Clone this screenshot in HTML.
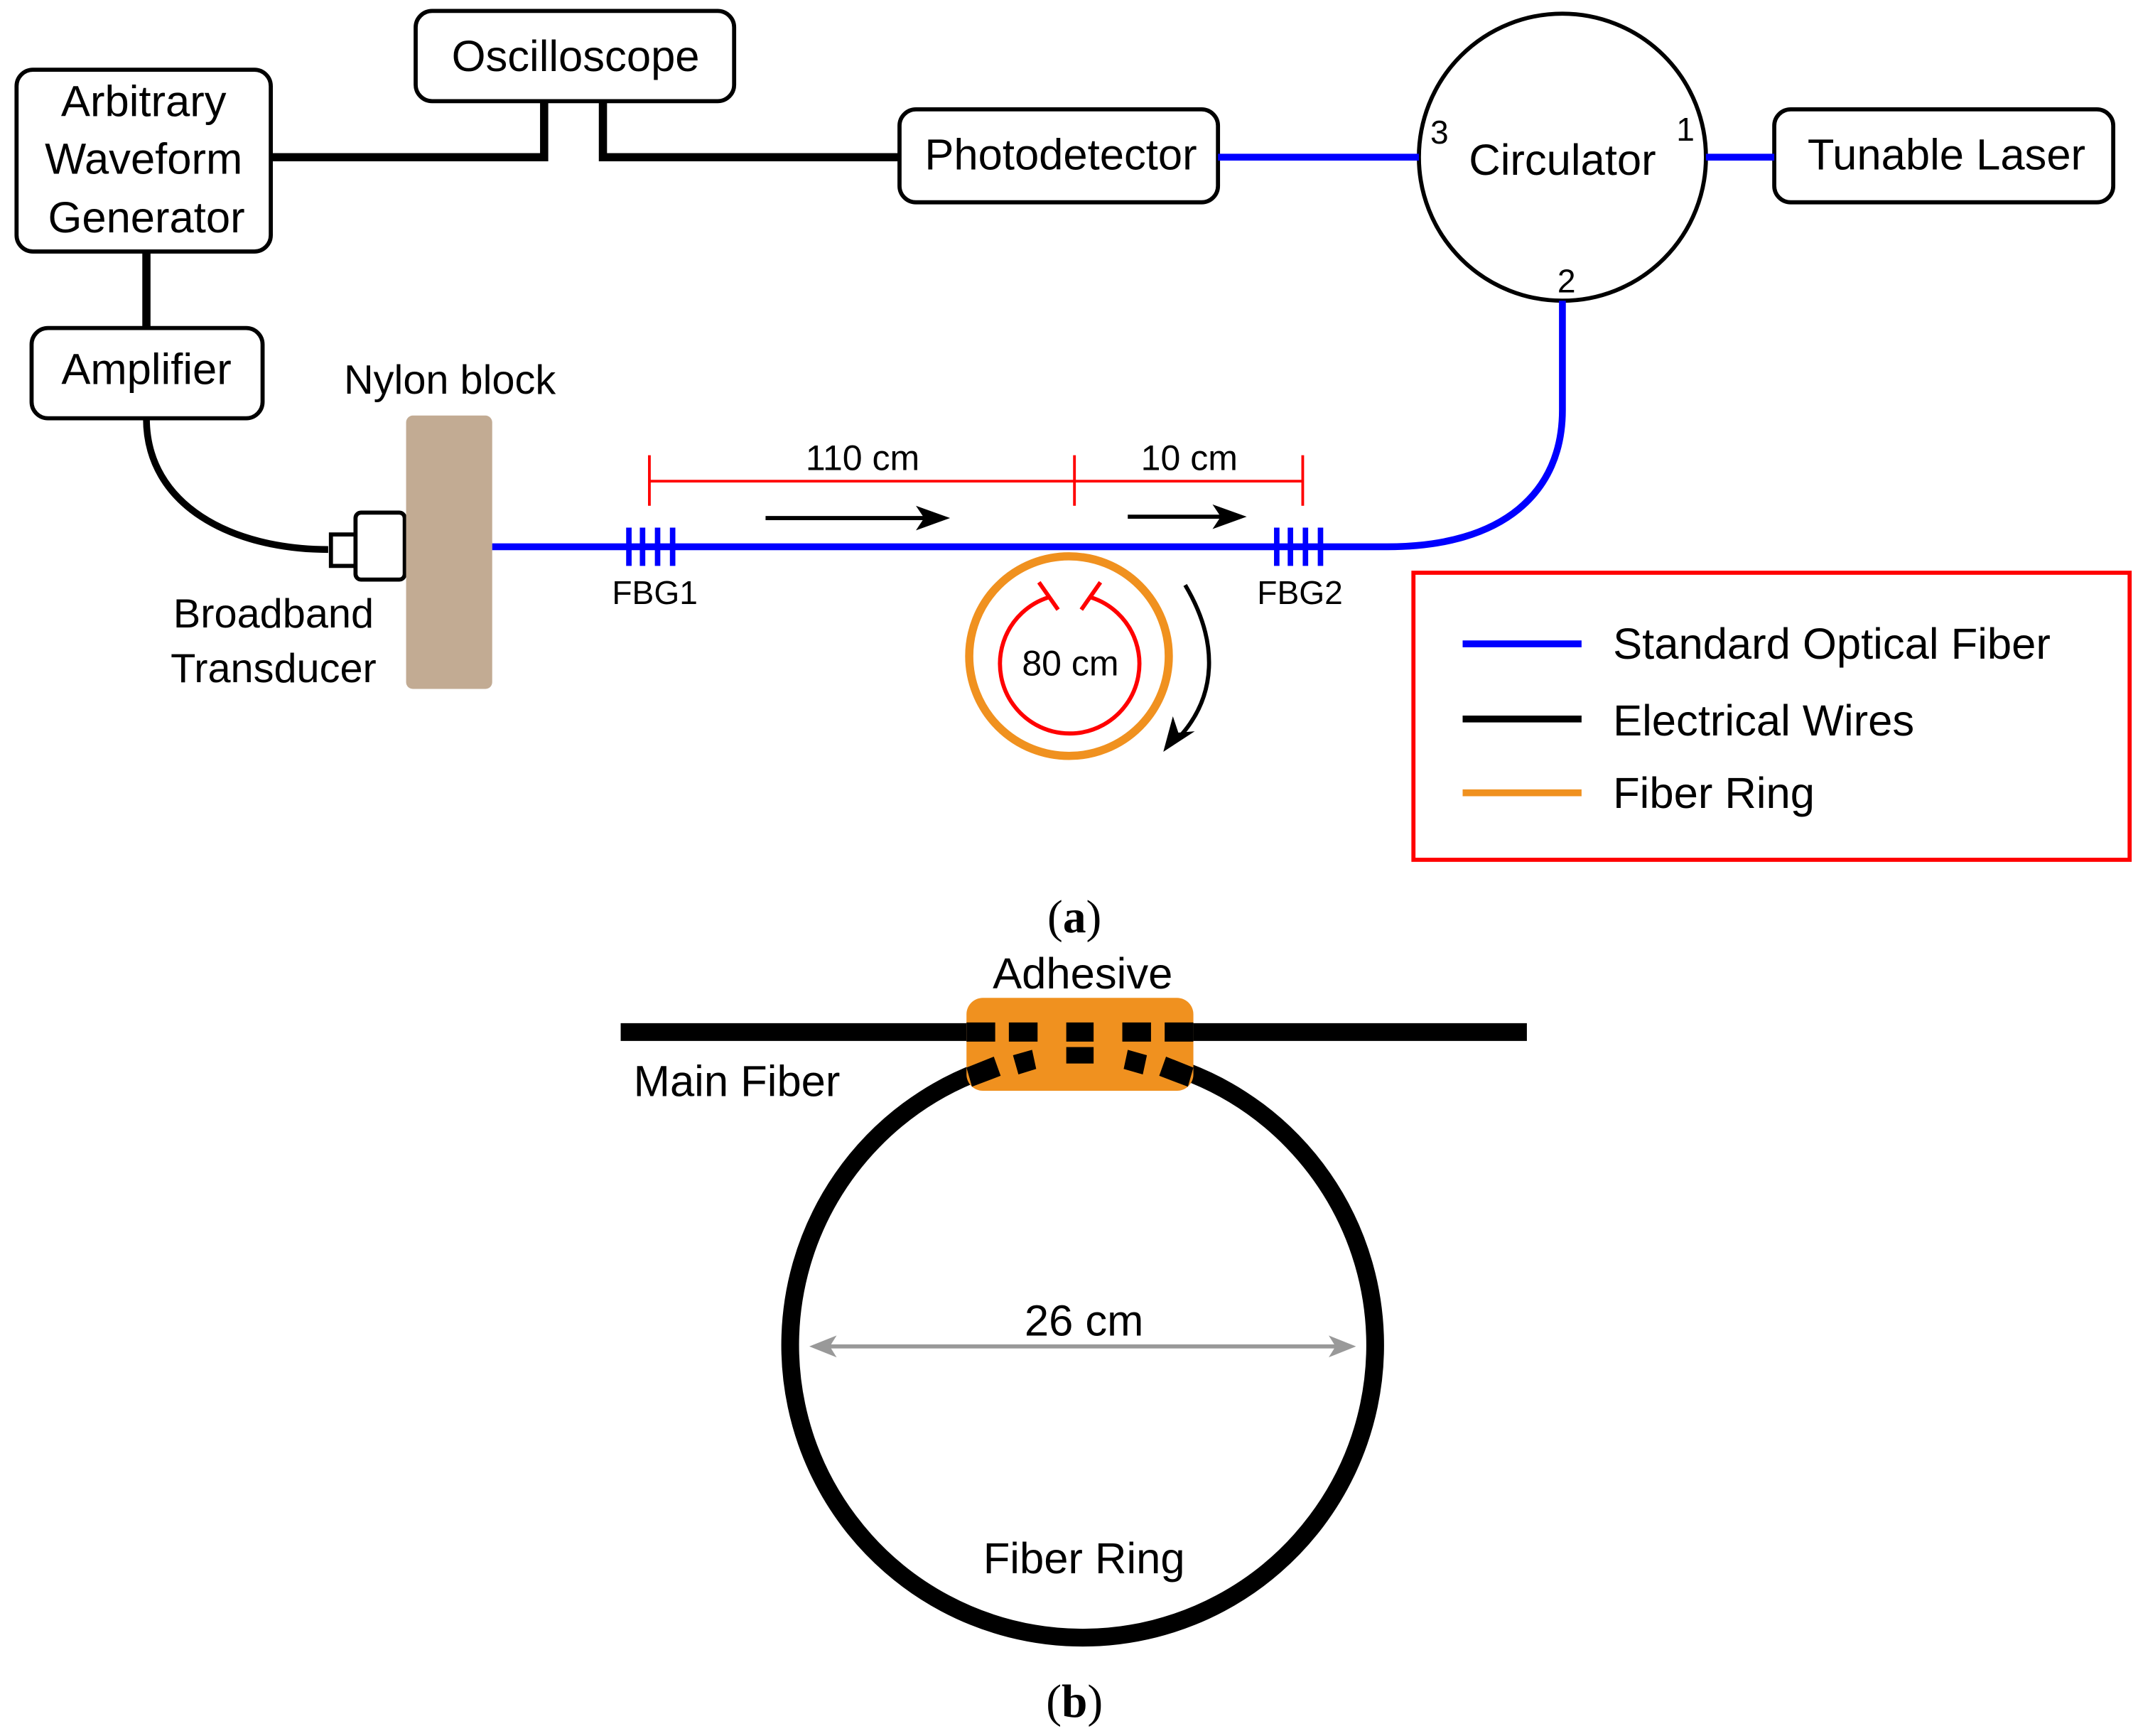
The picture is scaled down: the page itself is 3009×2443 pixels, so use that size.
<!DOCTYPE html>
<html><head><meta charset="utf-8"><style>
html,body{margin:0;padding:0;background:#fff}
svg{display:block}
text{font-family:"Liberation Sans",sans-serif;fill:#000}
</style></head><body>
<svg width="3009" height="2443" viewBox="0 0 1564 1270" xmlns="http://www.w3.org/2000/svg">
<g fill="none" stroke="#000" stroke-width="6">
<path d="M198,115 H398 V74"/>
<path d="M441,74 V115 H658"/>
<path d="M107,184 V240"/>
<path d="M107,306 C107,370 170,402 240,402" stroke-width="5"/>
</g>
<g fill="#fff" stroke="#000" stroke-width="3">
<rect x="12" y="51" width="186" height="133" rx="12"/>
<rect x="304" y="8" width="233" height="66" rx="12"/>
<rect x="658" y="80" width="233" height="68" rx="12"/>
<rect x="1298" y="80" width="248" height="68" rx="12"/>
<rect x="23" y="240" width="169" height="66" rx="12"/>
<circle cx="1143" cy="115" r="105"/>
<rect x="242" y="391" width="18" height="23"/>
<rect x="260" y="375" width="36" height="49" rx="4"/>
</g>
<rect x="297" y="304" width="63" height="200" rx="5" fill="#c2ab93"/>
<g fill="none" stroke="#0000ff" stroke-width="5">
<path d="M360,400 H1015 C1100,400 1143,360 1143,300 V220"/>
<path d="M891,115 H1038"/>
<path d="M1248,115 H1298"/>
<path d="M460,386V414M470,386V414M481,386V414M492,386V414M934,386V414M944,386V414M955,386V414M966,386V414" stroke-width="4"/>
</g>
<g stroke="#ff0000" stroke-width="2" fill="none">
<path d="M475,352 H953 M475,333 V370 M786,333 V370 M953,333 V370"/>
<path d="M767,437 A51,51 0 1,0 798,437" stroke-width="3"/>
<path d="M760,426 L774,446 M805,426 L791,446" stroke-width="3"/>
</g>
<circle cx="782" cy="480" r="73" fill="none" stroke="#f0911f" stroke-width="6"/>
<g stroke="#000" stroke-width="3" fill="none">
<path d="M560,379 H680"/>
<path d="M825,378 H898"/>
<path d="M867,428 C892,470 890,510 862,540"/>
</g>
<g fill="#000">
<path d="M695,379 L670,370 L676,379 L670,388 Z"/>
<path d="M912,378 L887,369 L893,378 L887,387 Z"/>
<path d="M851,550 L858,524 L862,536 L874,535 Z"/>
</g>
<g font-size="32" text-anchor="middle">
<text x="105" y="85">Arbitrary</text>
<text x="105" y="127">Waveform</text>
<text x="107" y="170">Generator</text>
<text x="421" y="52">Oscilloscope</text>
<text x="776" y="124">Photodetector</text>
<text x="1143" y="128">Circulator</text>
<text x="1424" y="124">Tunable Laser</text>
<text x="107" y="281">Amplifier</text>
</g>
<g font-size="30" text-anchor="middle">
<text x="329" y="288">Nylon block</text>
<text x="200" y="459">Broadband</text>
<text x="200" y="499">Transducer</text>
</g>
<g font-size="24" text-anchor="middle">
<text x="1053" y="105">3</text>
<text x="1233" y="103">1</text>
<text x="1146" y="214">2</text>
<text x="479" y="442">FBG1</text>
<text x="951" y="442">FBG2</text>
<text x="631" y="344" font-size="26">110 cm</text>
<text x="870" y="344" font-size="26">10 cm</text>
<text x="783" y="494" font-size="26">80 cm</text>
</g>
<rect x="1034" y="419" width="524" height="210" fill="none" stroke="#ff0000" stroke-width="3"/>
<path d="M1070,471 H1157" stroke="#0000ff" stroke-width="5"/>
<path d="M1070,526 H1157" stroke="#000" stroke-width="5"/>
<path d="M1070,580 H1157" stroke="#f0911f" stroke-width="5"/>
<g font-size="32">
<text x="1180" y="482">Standard Optical Fiber</text>
<text x="1180" y="538">Electrical Wires</text>
<text x="1180" y="591">Fiber Ring</text>
</g>
<text x="786" y="682" font-size="34" text-anchor="middle" style="font-family:'Liberation Serif',serif">(<tspan font-weight="bold">a</tspan>)</text>
<text x="786" y="1256" font-size="34" text-anchor="middle" style="font-family:'Liberation Serif',serif">(<tspan font-weight="bold">b</tspan>)</text>
<path d="M716,784 A214,214 0 1,0 868,784" fill="none" stroke="#000" stroke-width="13"/>
<path d="M454,755 H707 M873,755 H1117" stroke="#000" stroke-width="13"/>
<rect x="707" y="730" width="166" height="68" rx="12" fill="#f0911f"/>
<g fill="#000">
<rect x="707" y="748" width="21" height="14"/>
<rect x="738" y="748" width="21" height="14"/>
<rect x="780" y="748" width="20" height="14"/>
<rect x="821" y="748" width="21" height="14"/>
<rect x="852" y="748" width="21" height="14"/>
<path d="M711,795 L732,787 L727,773 L707,781 Z"/>
<path d="M741,772 L755,768 L758,782 L745,786 Z"/>
<path d="M780,766 L800,766 L800,778 L780,778 Z"/>
<path d="M825,768 L839,772 L836,786 L822,782 Z"/>
<path d="M869,795 L848,787 L853,773 L873,781 Z"/>
</g>
<path d="M600,985 H984" stroke="#999" stroke-width="3"/>
<path d="M592,985 L612,977 L607,985 L612,993 Z M992,985 L972,977 L977,985 L972,993 Z" fill="#999"/>
<g font-size="32" text-anchor="middle">
<text x="792" y="723">Adhesive</text>
<text x="539" y="802">Main Fiber</text>
<text x="793" y="977">26 cm</text>
<text x="793" y="1151">Fiber Ring</text>
</g>
</svg>
</body></html>
